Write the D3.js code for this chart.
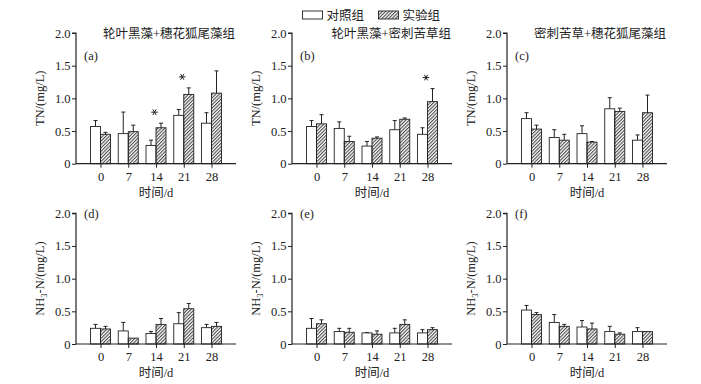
<!DOCTYPE html>
<html>
<head>
<meta charset="utf-8">
<script src="https://cdn.jsdelivr.net/npm/d3@7"></script>
<style>
  html, body { margin: 0; padding: 0; background: #fff; }
  svg { display: block; }
  text { font-family: "Liberation Serif", "Noto Sans CJK SC", serif; fill: #222; }
</style>
</head>
<body>
<svg id="chart" width="701" height="384"></svg>
<script>
const days = [0, 7, 14, 21, 28];
const yTicks = [0, 0.5, 1.0, 1.5, 2.0];
const legendLabels = ["对照组", "实验组"];
const panelTags = ["(a)", "(b)", "(c)", "(d)", "(e)", "(f)"];
const panelTitles = ["轮叶黑藻+穗花狐尾藻组", "轮叶黑藻+密刺苦草组", "密刺苦草+穗花狐尾藻组", "", "", ""];

// TN, mg/L
const tnCtrl = [
  [0.57, 0.46, 0.28, 0.74, 0.62],
  [0.57, 0.54, 0.27, 0.52, 0.45],
  [0.69, 0.40, 0.46, 0.84, 0.36]
];
const tnCtrlErr = [
  [0.09, 0.33, 0.08, 0.09, 0.16],
  [0.09, 0.10, 0.07, 0.14, 0.10],
  [0.09, 0.12, 0.12, 0.17, 0.08]
];
const tnExp = [
  [0.45, 0.49, 0.55, 1.06, 1.08],
  [0.61, 0.34, 0.39, 0.68, 0.95],
  [0.53, 0.36, 0.33, 0.80, 0.78]
];
const tnExpErr = [
  [0.03, 0.10, 0.07, 0.10, 0.34],
  [0.14, 0.08, 0.02, 0.02, 0.20],
  [0.06, 0.09, 0.01, 0.05, 0.27]
];
const tnSig = [
  [false, false, true, true, false],
  [false, false, false, false, true],
  [false, false, false, false, false]
];

// NH3-N, mg/L
const nhCtrl = [
  [0.24, 0.20, 0.16, 0.31, 0.25],
  [0.24, 0.19, 0.17, 0.17, 0.17],
  [0.52, 0.33, 0.26, 0.19, 0.19]
];
const nhCtrlErr = [
  [0.06, 0.13, 0.03, 0.17, 0.05],
  [0.15, 0.05, 0.005, 0.07, 0.05],
  [0.07, 0.12, 0.10, 0.08, 0.06]
];
const nhExp = [
  [0.23, 0.09, 0.30, 0.54, 0.27],
  [0.31, 0.18, 0.15, 0.30, 0.22],
  [0.45, 0.27, 0.23, 0.15, 0.19]
];
const nhExpErr = [
  [0.04, 0.0, 0.09, 0.08, 0.06],
  [0.06, 0.06, 0.05, 0.07, 0.03],
  [0.03, 0.03, 0.09, 0.02, 0.0]
];

const svg = d3.select("#chart");

const defs = svg.append("defs");
defs.append("pattern")
  .attr("id", "hatch")
  .attr("patternUnits", "userSpaceOnUse")
  .attr("width", 2.4)
  .attr("height", 2.4)
  .attr("patternTransform", "rotate(45)")
  .append("line")
  .attr("x1", 0.6).attr("y1", 0)
  .attr("x2", 0.6).attr("y2", 2.4)
  .attr("stroke", "#222")
  .attr("stroke-width", 0.9);

const colX = [76, 292, 507];
const rowY = [33, 213.3];
const plotW = 160;
const plotH = 130.7;
const barW = 10;
const ink = "#222";

const star = d3.symbol().type(d3.symbolAsterisk).size(30);

function drawPanel(i) {
  const col = i % 3;
  const row = Math.floor(i / 3);
  const ctrl = row === 0 ? tnCtrl[col] : nhCtrl[col];
  const ctrlErr = row === 0 ? tnCtrlErr[col] : nhCtrlErr[col];
  const exp = row === 0 ? tnExp[col] : nhExp[col];
  const expErr = row === 0 ? tnExpErr[col] : nhExpErr[col];
  const sig = row === 0 ? tnSig[col] : [];

  const g = svg.append("g")
    .attr("transform", `translate(${colX[col]},${rowY[row]})`);

  const x = d3.scalePoint()
    .domain(days)
    .range([24.5, plotW - 24.5]);

  const y = d3.scaleLinear()
    .domain([0, 2])
    .range([plotH, 0]);

  const series = [
    { vals: ctrl, errs: ctrlErr, off: -barW, fill: "#fff" },
    { vals: exp, errs: expErr, off: 0, fill: "url(#hatch)" }
  ];

  series.forEach(s => {
    const bars = g.append("g");
    days.forEach((d, j) => {
      const top = y(s.vals[j]);
      const cx = x(d) + s.off + barW / 2;
      if (s.errs[j] > 0.002) {
        const et = y(s.vals[j] + s.errs[j]);
        bars.append("line")
          .attr("x1", cx).attr("x2", cx)
          .attr("y1", top).attr("y2", et)
          .attr("stroke", ink).attr("stroke-width", 1);
        bars.append("line")
          .attr("x1", cx - 2).attr("x2", cx + 2)
          .attr("y1", et).attr("y2", et)
          .attr("stroke", ink).attr("stroke-width", 1);
      }
      bars.append("rect")
        .attr("x", x(d) + s.off)
        .attr("y", top)
        .attr("width", barW)
        .attr("height", plotH - top)
        .attr("fill", s.fill)
        .attr("stroke", ink)
        .attr("stroke-width", 0.9);
    });
  });

  // significance marks
  days.forEach((d, j) => {
    if (!sig[j]) return;
    const topVal = Math.max(ctrl[j] + ctrlErr[j], exp[j] + expErr[j]);
    g.append("path")
      .attr("transform", `translate(${x(d) - 1.5},${y(topVal) - 11}) rotate(90)`)
      .attr("d", star)
      .attr("fill", "none")
      .attr("stroke", ink)
      .attr("stroke-width", 1);
  });

  const yAxis = g.append("g")
    .call(d3.axisLeft(y)
      .tickValues(yTicks)
      .tickSize(4)
      .tickPadding(1.5)
      .tickFormat(v => v === 0 ? "0" : d3.format(".1f")(v)));

  const xAxis = g.append("g")
    .attr("transform", `translate(0,${plotH})`)
    .call(d3.axisBottom(x).tickSize(4).tickPadding(4.5).tickSizeOuter(0));

  [yAxis, xAxis].forEach(ax => {
    ax.select(".domain").attr("stroke", ink).attr("stroke-width", 1.2);
    ax.selectAll(".tick line").attr("stroke", ink).attr("stroke-width", 1);
    ax.selectAll(".tick text")
      .attr("font-size", "12.5px")
      .attr("font-family", "Liberation Serif")
      .attr("fill", ink);
  });
  yAxis.select(".domain").attr("d", `M-4,0H0V${plotH}`);
  xAxis.select(".domain").attr("d", `M0,0H${plotW}`);

  g.append("text")
    .attr("x", plotW / 2)
    .attr("y", plotH + 33.5)
    .attr("text-anchor", "middle")
    .attr("font-size", "12.5px")
    .text("时间/d");

  const yl = g.append("text")
    .attr("transform", `translate(-36,${plotH / 2}) rotate(-90)`)
    .attr("text-anchor", "middle")
    .attr("dy", "0.35em")
    .attr("font-size", "12.5px");
  if (row === 0) {
    yl.text("TN/(mg/L)");
  } else {
    yl.append("tspan").text("NH");
    yl.append("tspan").attr("font-size", "8.5px").attr("dy", "3").text("3");
    yl.append("tspan").attr("dy", "-3").text("-N/(mg/L)");
  }

  g.append("text")
    .attr("x", 8)
    .attr("y", row === 0 ? 26.5 : 4.5)
    .attr("font-size", "12.5px")
    .text(panelTags[i]);

  if (panelTitles[i]) {
    g.append("text")
      .attr("x", plotW - 1)
      .attr("y", 4.5)
      .attr("text-anchor", "end")
      .attr("font-size", "12.5px")
      .text(panelTitles[i]);
  }
}

for (let i = 0; i < 6; i++) drawPanel(i);

// legend
const legend = svg.append("g").attr("transform", "translate(302.5,11)");
const legendFills = ["#fff", "url(#hatch)"];
legendLabels.forEach((lab, k) => {
  const item = legend.append("g").attr("transform", `translate(${k * 76},0)`);
  item.append("rect")
    .attr("width", 20)
    .attr("height", 8)
    .attr("fill", legendFills[k])
    .attr("stroke", ink)
    .attr("stroke-width", 0.9);
  item.append("text")
    .attr("x", 24)
    .attr("y", 8.5)
    .attr("font-size", "12.5px")
    .text(lab);
});
</script>
</body>
</html>
